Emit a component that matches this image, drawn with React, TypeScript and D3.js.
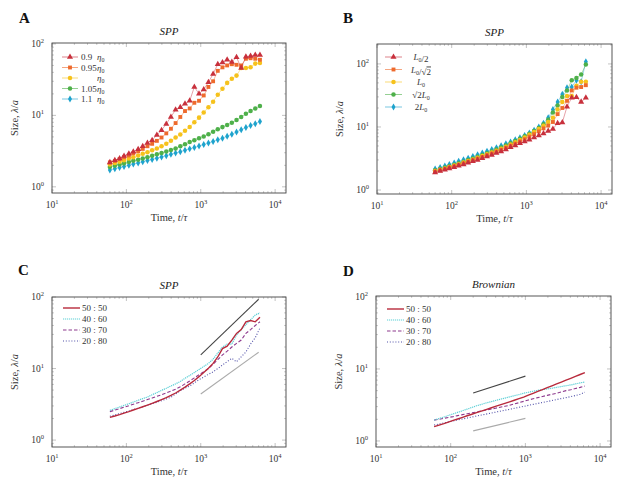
import React from "react";
import * as d3 from "d3";

// ---------- data ----------
const T = [60, 70, 81, 93, 108, 124, 144, 166, 192, 222, 257, 297, 344, 397, 459, 531, 614, 710, 820, 948, 1096, 1268, 1466, 1694, 1959, 2265, 2618, 3027, 3499, 4046, 4677, 5408, 6252];

const A_eta090 = [2.2, 2.35, 2.5, 2.7, 2.9, 3.1, 3.35, 3.7, 4.1, 4.5, 5.3, 6.2, 7.6, 9.5, 12, 13, 14.5, 16, 25, 20, 23, 29, 38, 52, 55, 60, 56, 65, 46, 66, 68, 70, 70];
const A_eta095 = [2.2, 2.3, 2.45, 2.6, 2.75, 2.95, 3.15, 3.4, 3.7, 4.0, 4.4, 4.9, 5.6, 6.5, 7.8, 9.5, 11.5, 12.5, 15, 16, 19, 25, 30, 42, 47, 50, 52, 51, 50, 62, 63, 62, 60];
const A_eta100 = [2.05, 2.15, 2.25, 2.35, 2.5, 2.6, 2.75, 2.9, 3.05, 3.25, 3.45, 3.7, 4.0, 4.4, 4.9, 5.4, 6.1, 6.9, 8.0, 9.3, 11.0, 13.0, 15.5, 19.5, 23.5, 28.5, 32.5, 36, 46, 46, 47, 53, 54];
const A_eta105 = [1.9, 1.97, 2.05, 2.13, 2.22, 2.31, 2.4, 2.5, 2.6, 2.72, 2.85, 2.98, 3.12, 3.27, 3.45, 3.7, 3.95, 4.25, 4.5, 4.8, 5.05, 5.45, 5.9, 6.4, 6.85, 7.35, 7.9, 8.6, 9.5, 10.5, 11.5, 12.5, 13.5];
const A_eta110 = [1.72, 1.79, 1.86, 1.93, 2.0, 2.08, 2.16, 2.24, 2.33, 2.42, 2.52, 2.62, 2.73, 2.85, 2.97, 3.1, 3.25, 3.4, 3.55, 3.72, 3.9, 4.1, 4.32, 4.55, 4.8, 5.1, 5.45, 5.85, 6.3, 6.75, 7.2, 7.65, 8.2];

const B_half = [1.9, 2.0, 2.1, 2.2, 2.3, 2.42, 2.55, 2.7, 2.85, 3.0, 3.2, 3.4, 3.6, 3.85, 4.1, 4.4, 4.75, 5.1, 5.5, 5.9, 6.3, 6.8, 7.3, 7.9, 8.6, 9.3, 11.5, 11.8, 21, 29, 29.5, 25, 29];
const B_invSqrt2 = [1.95, 2.05, 2.15, 2.27, 2.38, 2.5, 2.65, 2.8, 2.97, 3.15, 3.35, 3.57, 3.8, 4.07, 4.36, 4.7, 5.05, 5.45, 5.9, 6.4, 7.0, 7.7, 8.5, 9.5, 10.5, 12, 16, 20, 26, 38, 42, 43, 46];
const B_L0 = [2.0, 2.1, 2.2, 2.32, 2.44, 2.57, 2.72, 2.88, 3.05, 3.24, 3.45, 3.68, 3.93, 4.2, 4.5, 4.85, 5.25, 5.7, 6.2, 6.8, 7.5, 8.3, 9.3, 10.5, 12, 14, 19, 25, 31, 31, 45, 52, 52];
const B_sqrt2 = [2.05, 2.16, 2.27, 2.39, 2.52, 2.66, 2.82, 2.99, 3.17, 3.37, 3.59, 3.83, 4.1, 4.4, 4.72, 5.08, 5.5, 5.97, 6.5, 7.1, 7.8, 8.6, 9.6, 11, 13, 17, 22, 30, 38, 55, 60, 68, 98];
const B_2L0 = [2.15, 2.27, 2.4, 2.54, 2.69, 2.85, 3.02, 3.2, 3.4, 3.62, 3.86, 4.12, 4.4, 4.7, 5.03, 5.4, 5.8, 6.25, 6.75, 7.3, 8.0, 8.9, 10, 11.5, 14, 19, 25, 33, 42, 43, 55, 52, 108];

const C_5050 = [2.08, 2.17, 2.27, 2.38, 2.5, 2.63, 2.77, 2.92, 3.08, 3.26, 3.46, 3.68, 3.92, 4.2, 4.55, 5.0, 5.5, 6.1, 6.8, 7.7, 8.8, 10.1, 11.8, 14.5, 19, 20.5, 25, 31, 35, 45, 47, 45, 52];
const C_4060 = [2.6, 2.75, 2.9, 3.05, 3.22, 3.4, 3.6, 3.8, 4.0, 4.3, 4.6, 4.95, 5.3, 5.7, 6.1, 6.6, 7.3, 8.0, 8.8, 9.7, 10.7, 11.8, 13.5, 16.5, 20, 22, 22, 29.5, 35, 41, 48, 56, 60];
const C_3070 = [2.5, 2.62, 2.75, 2.88, 3.02, 3.17, 3.33, 3.5, 3.68, 3.87, 4.08, 4.3, 4.55, 4.83, 5.15, 5.55, 6.1, 6.7, 7.4, 8.2, 9.0, 10.0, 11.5, 13.3, 15.5, 17.5, 20, 22.5, 25, 31, 35, 40, 45];
const C_2080 = [2.15, 2.24, 2.34, 2.44, 2.55, 2.67, 2.8, 2.93, 3.07, 3.22, 3.38, 3.55, 3.75, 3.97, 4.4, 4.9, 5.3, 5.7, 6.3, 7.0, 7.6, 8.3, 9.0, 10.0, 11.2, 12.5, 13.9, 12.4, 14.6, 17, 22, 27, 37];

const D_5050 = [1.58, 1.66, 1.74, 1.83, 1.93, 2.02, 2.13, 2.24, 2.35, 2.47, 2.6, 2.73, 2.87, 3.02, 3.17, 3.33, 3.5, 3.68, 3.87, 4.07, 4.32, 4.59, 4.87, 5.17, 5.49, 5.83, 6.19, 6.58, 6.98, 7.42, 7.88, 8.37, 8.9];
const D_4060 = [1.95, 2.05, 2.15, 2.26, 2.38, 2.5, 2.63, 2.77, 2.92, 3.08, 3.22, 3.37, 3.5, 3.65, 3.8, 3.94, 4.1, 4.25, 4.4, 4.6, 4.75, 4.9, 5.05, 5.15, 5.28, 5.4, 5.55, 5.7, 5.85, 6.0, 6.2, 6.4, 6.6];
const D_3070 = [1.95, 2.0, 2.06, 2.12, 2.18, 2.25, 2.32, 2.39, 2.46, 2.53, 2.61, 2.69, 2.77, 2.85, 2.94, 3.03, 3.13, 3.27, 3.4, 3.55, 3.7, 3.85, 4.0, 4.15, 4.3, 4.45, 4.6, 4.8, 5.0, 5.15, 5.35, 5.55, 5.8];
const D_2080 = [1.67, 1.72, 1.78, 1.84, 1.9, 1.96, 2.02, 2.08, 2.15, 2.22, 2.29, 2.36, 2.43, 2.51, 2.59, 2.67, 2.75, 2.84, 2.93, 3.02, 3.12, 3.22, 3.32, 3.42, 3.53, 3.64, 3.76, 3.88, 4.0, 4.13, 4.28, 4.45, 4.75];

// guide lines (power laws)
const C_guideDarkT = [1000, 6000];
const C_guideDarkV = [15.5, 93];
const C_guideLightT = [1000, 6000];
const C_guideLightV = [4.4, 16.9];
const D_guideDarkT = [200, 1000];
const D_guideDarkV = [4.65, 7.95];
const D_guideLightT = [200, 1000];
const D_guideLightV = [1.38, 2.06];

const X_TICKS = [1, 2, 3, 4];
const Y_TICKS = [0, 1, 2];

// ---------- styling ----------
const FONT = "'Liberation Serif', 'DejaVu Serif', serif";
const X_DOMAIN: [number, number] = [10, 14000];

const RED = "#c8303c";
const ORANGE = "#ee6a2c";
const YELLOW = "#f6c21c";
const GREEN = "#4eb04a";
const CYAN = "#1ea3cd";

const L_RED = "#b82a3c";
const L_CYAN = "#5ccfd6";
const L_PURPLE = "#8e3a8e";
const L_BLUE = "#5050a8";

type Series = {
  values: number[];
  t?: number[];
  color: string;
  marker?: "tri" | "sq" | "circ" | "dia";
  dash?: string;
  width?: number;
  label: React.ReactNode;
};

type Guide = { t: number[]; v: number[]; color: string };

type PanelProps = {
  left: number;
  right: number;
  top: number;
  bottom: number;
  yDomain: [number, number];
  title: string;
  letter: string;
  letterX: number;
  letterY: number;
  series: Series[];
  guides?: Guide[];
  legend: { lx0: number; lx1: number; tx: number; anchor: "start" | "middle"; rows: number[] };
};

const symbolPath = (m: string) => {
  const type =
    m === "tri" ? d3.symbolTriangle : m === "sq" ? d3.symbolSquare : m === "circ" ? d3.symbolCircle : d3.symbolDiamond;
  const size = m === "tri" ? 16 : m === "sq" ? 15 : m === "circ" ? 16 : 14;
  return d3.symbol().type(type).size(size)() as string;
};

const Eta = () => (
  <tspan>
    <tspan fontStyle="italic">η</tspan>
    <tspan fontSize={6} dy={2}>0</tspan>
    <tspan dy={-2}></tspan>
  </tspan>
);

const L0 = () => (
  <tspan>
    <tspan fontStyle="italic">L</tspan>
    <tspan fontSize={6} dy={2}>0</tspan>
    <tspan dy={-2}></tspan>
  </tspan>
);

const Panel = (p: PanelProps) => {
  const xs = d3.scaleLog().domain(X_DOMAIN).range([p.left, p.right]);
  const ys = d3.scaleLog().domain(p.yDomain).range([p.bottom, p.top]);
  const line = d3
    .line<[number, number]>()
    .x((d) => xs(d[0]))
    .y((d) => ys(d[1]));

  const minorX: number[] = [];
  for (let k = 1; k <= 4; k++) for (let m = 2; m <= 9; m++) {
    const v = m * Math.pow(10, k);
    if (v < X_DOMAIN[1]) minorX.push(v);
  }
  const minorY: number[] = [];
  for (let k = -1; k <= 2; k++) for (let m = 2; m <= 9; m++) {
    const v = m * Math.pow(10, k);
    if (v > p.yDomain[0] && v < p.yDomain[1]) minorY.push(v);
  }
  const tickCol = "#9a9a9a";
  const cx = (p.left + p.right) / 2;
  const cy = (p.top + p.bottom) / 2;

  return (
    <g fontFamily={FONT}>
      <text x={p.letterX} y={p.letterY} fontSize={15} fontWeight="bold" fill="#111">{p.letter}</text>
      <text x={cx} y={p.top - 8} textAnchor="middle" fontSize={11} fontStyle="italic" fill="#222">{p.title}</text>

      {/* ticks */}
      {minorX.map((v, i) => (
        <g key={"mx" + i} stroke={tickCol} strokeWidth={0.5}>
          <line x1={xs(v)} x2={xs(v)} y1={p.bottom} y2={p.bottom - 2} />
          <line x1={xs(v)} x2={xs(v)} y1={p.top} y2={p.top + 2} />
        </g>
      ))}
      {X_TICKS.map((e) => (
        <g key={"x" + e}>
          <line x1={xs(Math.pow(10, e))} x2={xs(Math.pow(10, e))} y1={p.bottom} y2={p.bottom - 4} stroke={tickCol} strokeWidth={0.6} />
          <line x1={xs(Math.pow(10, e))} x2={xs(Math.pow(10, e))} y1={p.top} y2={p.top + 4} stroke={tickCol} strokeWidth={0.6} />
          <text x={xs(Math.pow(10, e))} y={p.bottom + 15} textAnchor="middle" fontSize={9.5} fill="#333">
            10<tspan fontSize={6.5} dy={-4}>{e}</tspan>
          </text>
        </g>
      ))}
      {minorY.map((v, i) => (
        <g key={"my" + i} stroke={tickCol} strokeWidth={0.5}>
          <line x1={p.left} x2={p.left + 2} y1={ys(v)} y2={ys(v)} />
          <line x1={p.right} x2={p.right - 2} y1={ys(v)} y2={ys(v)} />
        </g>
      ))}
      {Y_TICKS.map((e) => (
        <g key={"y" + e}>
          <line x1={p.left} x2={p.left + 4} y1={ys(Math.pow(10, e))} y2={ys(Math.pow(10, e))} stroke={tickCol} strokeWidth={0.6} />
          <line x1={p.right} x2={p.right - 4} y1={ys(Math.pow(10, e))} y2={ys(Math.pow(10, e))} stroke={tickCol} strokeWidth={0.6} />
          <text x={p.left - 8} y={ys(Math.pow(10, e)) + 3} textAnchor="end" fontSize={9.5} fill="#333">
            10<tspan fontSize={6.5} dy={-4}>{e}</tspan>
          </text>
        </g>
      ))}

      {/* axis titles */}
      <text x={cx} y={p.bottom + 28} textAnchor="middle" fontSize={10.5} fill="#333">
        Time, <tspan fontStyle="italic">t</tspan>/<tspan fontStyle="italic">τ</tspan>
      </text>
      <text transform={`translate(${p.left - 34},${cy}) rotate(-90)`} textAnchor="middle" fontSize={10.5} fill="#333">
        Size, <tspan fontStyle="italic">λ</tspan>/<tspan fontStyle="italic">a</tspan>
      </text>

      {/* guides */}
      {(p.guides || []).map((g, i) => (
        <path key={"g" + i} d={line(g.t.map((t, j) => [t, g.v[j]] as [number, number])) as string} fill="none" stroke={g.color} strokeWidth={1.1} />
      ))}

      {/* series, drawn from last to first so the first lies on top */}
      {p.series.slice().reverse().map((s, i) => {
        const ts = s.t || T;
        const pts = s.values.map((v, j) => [ts[j], v] as [number, number]);
        return (
          <g key={"s" + i}>
            <path d={line(pts) as string} fill="none" stroke={s.color} strokeWidth={s.width ?? 0.6} strokeDasharray={s.dash} strokeOpacity={s.marker ? 0.75 : 1} />
            {s.marker &&
              pts.map((d, j) => (
                <path key={j} d={symbolPath(s.marker!)} transform={`translate(${xs(d[0])},${ys(d[1])})`} fill={s.color} />
              ))}
          </g>
        );
      })}

      {/* legend */}
      {p.series.map((s, i) => {
        const y = p.legend.rows[i];
        const mx = (p.legend.lx0 + p.legend.lx1) / 2;
        return (
          <g key={"l" + i}>
            <line x1={p.legend.lx0} x2={p.legend.lx1} y1={y} y2={y} stroke={s.color} strokeWidth={s.width ?? 0.6} strokeDasharray={s.dash} />
            {s.marker && <path d={symbolPath(s.marker)} transform={`translate(${mx},${y})`} fill={s.color} />}
            <text x={p.legend.tx} y={y + 3} textAnchor={p.legend.anchor} fontSize={9} fill="#333">{s.label}</text>
          </g>
        );
      })}

      <rect x={p.left} y={p.top} width={p.right - p.left} height={p.bottom - p.top} fill="none" stroke="#444" strokeWidth={0.9} />
    </g>
  );
};

const etaLabel = (num: string) => (
  <tspan>
    <tspan>{num}</tspan>
    <tspan x={97}><Eta /></tspan>
  </tspan>
);

export default function App() {
  const seriesA: Series[] = [
    { values: A_eta090, color: RED, marker: "tri", label: etaLabel("0.9") },
    { values: A_eta095, color: ORANGE, marker: "sq", label: etaLabel("0.95") },
    { values: A_eta100, color: YELLOW, marker: "circ", label: etaLabel("") },
    { values: A_eta105, color: GREEN, marker: "circ", label: etaLabel("1.05") },
    { values: A_eta110, color: CYAN, marker: "dia", label: etaLabel("1.1") },
  ];
  const seriesB: Series[] = [
    { values: B_half, color: RED, marker: "tri", label: <tspan><L0 />/2</tspan> },
    { values: B_invSqrt2, color: ORANGE, marker: "sq", label: <tspan><L0 />/√<tspan textDecoration="overline">2</tspan></tspan> },
    { values: B_L0, color: YELLOW, marker: "circ", label: <L0 /> },
    { values: B_sqrt2, color: GREEN, marker: "circ", label: <tspan>√2<L0 /></tspan> },
    { values: B_2L0, color: CYAN, marker: "dia", label: <tspan>2<L0 /></tspan> },
  ];
  const seriesC: Series[] = [
    { values: C_5050, color: L_RED, width: 1.4, label: "50 : 50" },
    { values: C_4060, color: L_CYAN, width: 1.2, dash: "1.2 0.8", label: "40 : 60" },
    { values: C_3070, color: L_PURPLE, width: 1.1, dash: "3.5 2", label: "30 : 70" },
    { values: C_2080, color: L_BLUE, width: 1.1, dash: "1 1.8", label: "20 : 80" },
  ];
  const seriesD: Series[] = [
    { values: D_5050, color: L_RED, width: 1.4, label: "50 : 50" },
    { values: D_4060, color: L_CYAN, width: 1.2, dash: "1.2 0.8", label: "40 : 60" },
    { values: D_3070, color: L_PURPLE, width: 1.1, dash: "3.5 2", label: "30 : 70" },
    { values: D_2080, color: L_BLUE, width: 1.1, dash: "1 1.8", label: "20 : 80" },
  ];

  return (
    <div style={{ position: "absolute", left: 0, top: 0 }}>
      <svg width={621} height={489} style={{ display: "block", background: "#fff" }}>
        <Panel
          left={52} right={286} top={43} bottom={193}
          yDomain={[0.82, 103]}
          title="SPP" letter="A" letterX={19} letterY={23}
          series={seriesA}
          legend={{ lx0: 62, lx1: 78, tx: 81, anchor: "start", rows: [57, 67.5, 78, 88.5, 99] }}
        />
        <Panel
          left={377} right={612} top={44} bottom={194}
          yDomain={[0.865, 207]}
          title="SPP" letter="B" letterX={343} letterY={23}
          series={seriesB}
          legend={{ lx0: 385, lx1: 402, tx: 421, anchor: "middle", rows: [57, 69.5, 82, 94.5, 107] }}
        />
        <Panel
          left={52} right={286} top={297} bottom={447}
          yDomain={[0.8, 100]}
          title="SPP" letter="C" letterX={18} letterY={275}
          series={seriesC}
          guides={[
            { t: C_guideDarkT, v: C_guideDarkV, color: "#444" },
            { t: C_guideLightT, v: C_guideLightV, color: "#aaa" },
          ]}
          legend={{ lx0: 63, lx1: 80, tx: 82, anchor: "start", rows: [308, 319, 330, 341] }}
        />
        <Panel
          left={376} right={611} top={296} bottom={447}
          yDomain={[0.825, 103]}
          title="Brownian" letter="D" letterX={343} letterY={276}
          series={seriesD}
          guides={[
            { t: D_guideDarkT, v: D_guideDarkV, color: "#444" },
            { t: D_guideLightT, v: D_guideLightV, color: "#aaa" },
          ]}
          legend={{ lx0: 387, lx1: 404, tx: 406, anchor: "start", rows: [309, 320, 331, 342] }}
        />
      </svg>
    </div>
  );
}
